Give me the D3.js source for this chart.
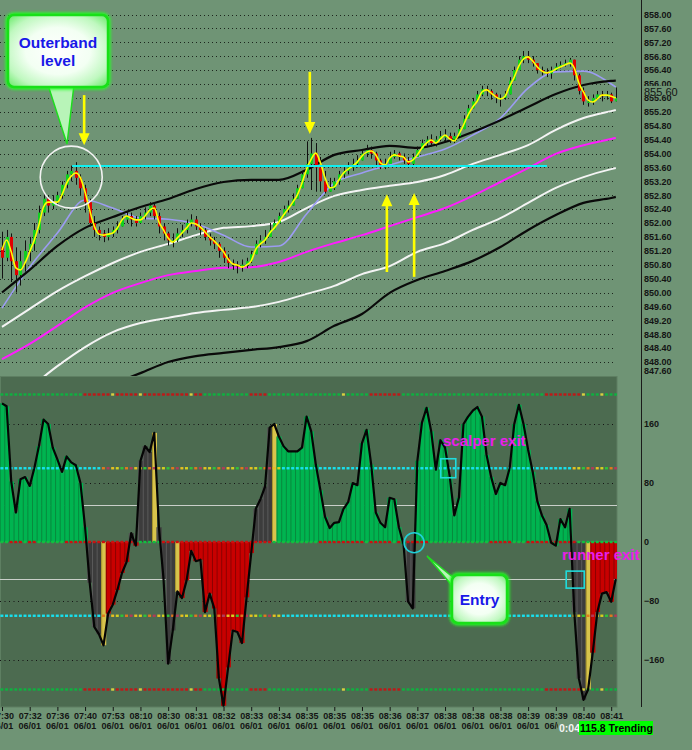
<!DOCTYPE html>
<html><head><meta charset="utf-8">
<script src="https://cdn.jsdelivr.net/npm/d3@7/dist/d3.min.js"></script>
<style>html,body{margin:0;padding:0;background:#6f9475;overflow:hidden}svg{display:block}</style>
</head><body>
<svg id="chart" width="692" height="750"></svg>
<script>
// ================= DATA =================
const timeLabels = ["07:30","07:32","07:36","07:40","07:53","08:10","08:30","08:31","08:32","08:33","08:34","08:35","08:35","08:35","08:36","08:37","08:38","08:38","08:38","08:39","08:39","08:40","08:41"];
const dateLabel = "06/01";
const priceTicks = [858.00,857.60,857.20,856.80,856.40,856.00,855.60,855.20,854.80,854.40,854.00,853.60,853.20,852.80,852.40,852.00,851.60,851.20,850.80,850.40,850.00,849.60,849.20,848.80,848.40,848.00,847.60];
const cciTicks = [160,80,0,-80,-160];
const cciOuter = [200,-200];
const cciMid = [100,-100];
const cciInner = [50,-50];
const lastPrice = 855.60;
const firstOpen = 851.3;

const close = [851.0,851.6,850.9,850.5,850.9,851.2,851.4,851.8,852.3,852.7,
852.5,852.6,852.8,853.1,853.4,853.5,853.3,853.0,852.6,852.0,
851.8,851.7,851.6,851.7,851.8,851.9,852.1,852.2,852.1,852.0,
852.2,852.3,852.5,852.2,851.9,851.7,851.5,851.5,851.7,851.8,
852.0,852.1,851.9,851.8,851.6,851.5,851.4,851.2,851.0,850.85,
850.8,850.75,850.8,850.9,851.1,851.4,851.5,851.6,851.8,852.0,
852.2,852.4,852.5,852.7,853.0,853.4,853.7,854.0,853.6,853.2,
852.9,853.0,853.2,853.4,853.5,853.6,853.7,853.8,854.0,854.1,
854.0,853.8,853.6,853.7,853.9,854.0,853.9,853.8,853.7,853.9,
854.1,854.3,854.4,854.3,854.4,854.5,854.5,854.4,854.5,854.7,
855.0,855.3,855.5,855.7,855.85,855.8,855.7,855.6,855.6,855.7,
856.1,856.4,856.7,856.8,856.7,856.6,856.4,856.35,856.3,856.4,
856.5,856.55,856.6,856.7,856.25,855.8,855.5,855.5,855.6,855.7,
855.65,855.7,855.5,855.6];

const high = [851.75,851.8,851.7,851.3,851.2,851.5,851.6,852.0,852.5,852.9,
852.8,852.8,852.9,853.2,853.5,853.65,853.75,853.4,853.1,852.7,
852.2,851.9,851.8,851.85,851.9,852.05,852.2,852.35,852.3,852.2,
852.3,852.45,852.6,852.6,852.3,852.0,851.75,851.7,851.85,851.95,
852.1,852.25,852.2,852.0,851.85,851.7,851.6,851.45,851.3,851.1,
850.95,850.9,850.95,851.0,851.2,851.5,851.65,851.8,852.0,852.1,
852.3,852.5,852.65,852.85,853.1,853.5,854.35,854.45,854.3,853.9,
853.5,853.3,853.3,853.5,853.6,853.75,853.85,853.95,854.1,854.25,
854.2,854.05,853.85,853.85,854.05,854.1,854.05,854.0,853.9,854.0,
854.2,854.4,854.5,854.55,854.5,854.65,854.7,854.6,854.6,854.85,
855.1,855.4,855.6,855.8,855.95,855.95,855.85,855.75,855.7,855.8,
856.2,856.5,856.8,856.95,856.95,856.8,856.6,856.5,856.45,856.5,
856.6,856.65,856.7,856.75,856.7,856.3,855.9,855.65,855.7,855.8,
855.8,855.8,855.75,855.9];

const low = [850.4,850.9,850.3,850.0,850.2,850.6,850.9,851.2,851.7,852.2,
852.3,852.4,852.5,852.7,853.0,853.2,853.1,852.8,852.3,851.9,
851.6,851.5,851.45,851.5,851.6,851.7,851.9,852.0,851.9,851.9,
852.0,852.1,852.2,852.1,851.7,851.5,851.35,851.3,851.45,851.6,
851.7,851.9,851.8,851.65,851.5,851.35,851.25,851.0,850.85,850.7,
850.65,850.55,850.6,850.7,850.85,851.1,851.3,851.4,851.6,851.8,
852.0,852.2,852.3,852.5,852.8,853.1,853.3,852.95,852.9,852.9,
852.85,852.9,852.95,853.1,853.3,853.4,853.5,853.6,853.8,853.9,
853.85,853.65,853.55,853.55,853.7,853.85,853.8,853.7,853.6,853.65,
853.9,854.1,854.2,854.2,854.2,854.35,854.35,854.3,854.3,854.5,
854.8,855.1,855.3,855.5,855.65,855.65,855.55,855.45,855.35,855.55,
855.9,856.2,856.5,856.6,856.6,856.5,856.3,856.25,856.2,856.15,
856.4,856.45,856.5,856.5,856.1,855.7,855.4,855.35,855.4,855.55,
855.5,855.55,855.45,855.5];

const fastMA = [851.22,851.51,851.17,850.71,850.65,850.85,851.17,851.51,851.94,852.46,
852.60,852.60,852.60,852.81,853.15,853.35,853.44,853.30,852.89,852.37,
851.91,851.68,851.65,851.68,851.71,851.86,852.09,852.20,852.14,852.09,
852.09,852.20,852.37,852.43,852.03,851.80,851.57,851.45,851.57,851.71,
851.86,852.00,851.97,851.88,851.74,851.60,851.48,851.34,851.17,850.96,
850.82,850.79,850.73,850.79,850.91,851.25,851.40,851.51,851.71,851.86,
852.03,852.23,852.40,852.60,852.81,853.15,853.55,853.84,854.01,853.73,
853.30,853.01,853.04,853.24,853.44,853.55,853.64,853.76,853.93,854.04,
854.07,853.96,853.73,853.67,853.87,853.96,853.93,853.90,853.76,853.81,
853.96,854.16,854.30,854.39,854.30,854.42,854.53,854.42,854.36,854.56,
854.82,855.11,855.34,855.51,855.77,855.83,855.74,855.63,855.57,855.65,
855.94,856.20,856.52,856.72,856.78,856.66,856.49,856.37,856.32,856.35,
856.43,856.49,856.55,856.60,856.46,856.03,855.77,855.54,855.48,855.57,
855.68,855.68,855.65,855.60];

const bandIdx = [0,6,12,18,24,30,36,42,48,54,60,66,72,78,84,90,96,102,108,114,120,126,132,133];
const upperOuter = [850.00,850.65,851.34,851.86,852.17,852.46,852.69,852.98,853.18,853.24,853.24,853.53,853.96,854.10,854.22,854.16,854.33,854.62,854.96,855.34,855.71,855.97,856.09,856.10];
const upperInner = [849.01,849.53,850.04,850.47,850.85,851.17,851.40,851.65,851.86,851.91,852.03,852.43,852.78,852.95,853.07,853.18,853.38,853.70,853.96,854.24,854.68,855.02,855.22,855.25];
const midBand    = [848.08,848.52,849.04,849.57,849.99,850.27,850.50,850.62,850.71,850.73,850.88,851.17,851.42,851.65,851.91,852.17,852.43,852.78,853.18,853.58,853.99,854.24,854.42,854.45];
const lowerInner = [846.62,847.25,847.88,848.43,848.86,849.12,849.27,849.41,849.50,849.58,849.73,849.96,850.19,850.53,850.76,851.17,851.42,851.80,852.14,852.58,853.01,853.32,853.55,853.58];
const lowerOuter = [846.10,846.42,846.73,847.05,847.37,847.68,848.00,848.17,848.26,848.35,848.43,848.60,849.04,849.38,849.99,850.36,850.62,850.91,851.31,851.80,852.23,852.58,852.72,852.75];
const slowMA     = [849.55,850.73,851.71,852.66,852.43,852.14,852.11,851.97,851.65,851.31,851.34,852.26,853.15,853.44,853.67,853.90,854.13,854.53,855.02,855.88,856.35,856.37,856.00,855.91];

const cci = [188,184,82,40,85,88,76,100,130,166,
160,128,112,95,116,108,104,80,20,-55,
-115,-125,-140,-97,-85,-65,-42,-27,12,-5,
110,130,122,148,20,-50,-165,-120,-67,-76,
-52,-12,-26,-24,-95,-70,-90,-185,-222,-170,
-120,-122,-137,-75,-15,45,58,75,155,160,
143,130,123,123,123,128,170,150,105,70,
34,19,26,27,45,54,80,77,134,152,
105,40,26,20,60,58,20,-3,-81,-90,
110,162,182,150,98,138,128,90,36,60,
160,170,178,183,170,118,88,65,80,77,
100,160,186,160,125,95,55,36,23,-1,
-5,31,20,45,-95,-185,-214,-200,-150,-95,
-70,-68,-81,-50];
// bar state runs: g=green, r=red, k=grey, y=yellow
const cciStateRuns = [["g",19],["k",3],["y",1],["r",5],["k",1],["r",1],["k",3],["y",1],["k",4],["y",1],["r",16],["k",4],["y",1],["g",28],["k",2],["g",34],["k",3],["y",1],["r",6]];
const outerRedRanges = [[18,43],[54,57],[80,86],[118,125]];
const outerYellowBars = [24,30,41,74,126,130];
const zeroRedRanges = [[2,4],[6,7],[14,15],[16,28],[35,58],[69,78],[80,84],[86,92],[106,110],[114,124]];
const midMultiRanges = [[22,60],[124,133]];

// annotations (in data coordinates)
const levelLine = {from: 15.2, to: 118.1, price: 853.64};
const downArrows = [{i: 17.8, p1: 855.68, p2: 854.24}, {i: 66.7, p1: 856.35, p2: 854.56}];
const upArrows = [{i: 83.4, p1: 850.59, p2: 852.83}, {i: 89.3, p1: 850.45, p2: 852.86}];
const outerCircle = {i: 15, p: 853.32};
const scalperBox = {i: 96.7, v: 100};
const runnerBox = {i: 124.2, v: -51};
const entryMark = {i: 89.3, v: -1};

// ================= DRAW =================
const F = "'Liberation Sans', Arial, Helvetica, sans-serif";
const BG = "#6f9475", PBG = "#4c6b50";
const svg = d3.select("#chart");
svg.append("rect").attr("width",692).attr("height",750).attr("fill",BG);
const defs = svg.append("defs");
defs.append("clipPath").attr("id","cTop").append("rect").attr("x",0).attr("y",0).attr("width",617).attr("height",376);
defs.append("clipPath").attr("id","cBot").append("rect").attr("x",0).attr("y",377).attr("width",617).attr("height",330);
defs.append("clipPath").attr("id","cDate").append("rect").attr("x",-10).attr("y",0).attr("width",568).attr("height",30);
const cPx = defs.append("clipPath").attr("id","cPx");
cPx.append("rect").attr("x",0).attr("y",0).attr("width",60).attr("height",86);
cPx.append("rect").attr("x",0).attr("y",95.5).attr("width",60).attr("height",300);
const rg = defs.append("radialGradient").attr("id","cfill").attr("cx","50%").attr("cy","50%").attr("r","65%");
[["0%","#ffffff"],["50%","#f3fff3"],["82%","#bff8bf"],["100%","#80ee80"]].forEach(([o,c])=>rg.append("stop").attr("offset",o).attr("stop-color",c));
const blur = defs.append("filter").attr("id","blur").attr("x","-30%").attr("y","-30%").attr("width","160%").attr("height","160%");
blur.append("feGaussianBlur").attr("stdDeviation",1.8);

const x = d3.scaleLinear().domain([0, close.length-1]).range([2, 615.8]);
const step = x(1) - x(0);
const yP = d3.scaleLinear().domain([847.6, 858]).range([375.9, 14.5]);
const yC = d3.scaleLinear().domain([-200, 200]).range([689.5, 394.5]);

// ---------- top panel ----------
const topG = svg.append("g").attr("clip-path","url(#cTop)");
topG.selectAll("line.grid").data(priceTicks).join("line").attr("class","grid")
  .attr("x1",0).attr("x2",615)
  .attr("y1",d=>Math.round(yP(d))+0.5).attr("y2",d=>Math.round(yP(d))+0.5)
  .attr("stroke","#1c261d").attr("stroke-width",1).attr("stroke-dasharray","1,3");

const bandLine = d3.line().x((d,k)=>x(bandIdx[k])).y(d=>yP(d)).curve(d3.curveMonotoneX);
[[lowerOuter,"#0a0a0a",2.2],[lowerInner,"#f4f4f4",2],[midBand,"#ff1cff",2],[upperInner,"#f4f4f4",2],[slowMA,"#9c9cf2",1.6],[upperOuter,"#0a0a0a",2.2]]
  .forEach(([arr,col,w])=>topG.append("path").datum(arr).attr("d",bandLine).attr("fill","none").attr("stroke",col).attr("stroke-width",w));

// candles
const candles = close.map((c,i)=>({i, o: i===0 ? firstOpen : close[i-1], c, h: high[i], l: low[i]}));
const cg = topG.append("g");
cg.selectAll("line").data(candles).join("line")
  .attr("x1",d=>Math.round(x(d.i))+0.5).attr("x2",d=>Math.round(x(d.i))+0.5)
  .attr("y1",d=>yP(Math.max(d.h,d.o,d.c))).attr("y2",d=>yP(Math.min(d.l,d.o,d.c)))
  .attr("stroke","#111").attr("stroke-width",1);
cg.selectAll("rect").data(candles).join("rect")
  .attr("x",d=>Math.round(x(d.i))-1).attr("width",3)
  .attr("y",d=>yP(Math.max(d.o,d.c)))
  .attr("height",d=>Math.max(1.5, Math.abs(yP(d.o)-yP(d.c))))
  .attr("fill",d=>d.c>=d.o ? "#10d020" : "#e00000");

// fast MA (yellow)
topG.append("path").datum(fastMA)
  .attr("d", d3.line().x((d,i)=>x(i)).y(d=>yP(d)).curve(d3.curveMonotoneX))
  .attr("fill","none").attr("stroke","#ffff00").attr("stroke-width",1.6);

// cyan level line
topG.append("line").attr("x1",x(levelLine.from)).attr("x2",x(levelLine.to))
  .attr("y1",yP(levelLine.price)).attr("y2",yP(levelLine.price))
  .attr("stroke","#10f0f0").attr("stroke-width",2);

// arrows
function arrow(a){
  const X = x(a.i), Y1 = yP(a.p1), Y2 = yP(a.p2), dir = Math.sign(Y2-Y1);
  topG.append("line").attr("x1",X).attr("x2",X).attr("y1",Y1).attr("y2",Y2-dir*10)
    .attr("stroke","#ffff00").attr("stroke-width",2.6);
  topG.append("path").attr("d",`M${X-5.5},${Y2-dir*12}L${X+5.5},${Y2-dir*12}L${X},${Y2}Z`).attr("fill","#ffff00");
}
downArrows.forEach(arrow); upArrows.forEach(arrow);

topG.append("circle").attr("cx",x(outerCircle.i)).attr("cy",yP(outerCircle.p)).attr("r",31)
  .attr("fill","none").attr("stroke","#f2f2f2").attr("stroke-width",1.6);

// callouts
function callout(g, bx, by, bw, bh, tail, lines, fs){
  g.append("path").attr("d",tail).attr("fill","#b8f4b8").attr("stroke","#1fdc1f").attr("stroke-width",1.5);
  g.append("rect").attr("x",bx).attr("y",by).attr("width",bw).attr("height",bh).attr("rx",6)
    .attr("fill","none").attr("stroke","#22ff22").attr("stroke-width",5).attr("filter","url(#blur)");
  g.append("rect").attr("x",bx).attr("y",by).attr("width",bw).attr("height",bh).attr("rx",6)
    .attr("fill","url(#cfill)").attr("stroke","#18e018").attr("stroke-width",2.5);
  lines.forEach(([t,ty])=>g.append("text").attr("x",bx+bw/2).attr("y",ty).attr("text-anchor","middle")
    .attr("font-family",F).attr("font-weight","bold").attr("font-size",fs).attr("fill","#1818e8").text(t));
}
const ann = svg.append("g");
callout(ann, 8, 15, 100, 72, "M48,85L74,85L67,144Z", [["Outerband",48],["level",66]], 15.5);

// ---------- right axis ----------
svg.append("line").attr("x1",641.5).attr("x2",641.5).attr("y1",0).attr("y2",707).attr("stroke","#1a1a1a");
const axPwrap = svg.append("g").attr("transform","translate(641,0)");
const axP = axPwrap.append("g").attr("clip-path","url(#cPx)")
  .call(d3.axisRight(yP).tickValues(priceTicks).tickSize(0).tickPadding(3).tickFormat(d=>d.toFixed(2)));
axP.select(".domain").remove();
axP.attr("font-family",F).attr("font-size",9).attr("font-weight","bold");
axP.selectAll("text").attr("fill","#141414");
axP.selectAll(".tick").filter(d=>d===847.6).select("text").attr("y",-5);
svg.append("text").attr("x",644).attr("y",96).attr("font-family",F).attr("font-size",11).attr("fill","#141414").text(lastPrice.toFixed(2));

// ---------- bottom panel ----------
svg.append("rect").attr("x",0.5).attr("y",376.5).attr("width",616.5).attr("height",330.5).attr("fill",PBG).attr("stroke","#5e7f62");
const bot = svg.append("g").attr("clip-path","url(#cBot)");
bot.selectAll("line.g").data(cciTicks.filter(v=>v!==0)).join("line").attr("class","g")
  .attr("x1",0).attr("x2",615).attr("y1",d=>Math.round(yC(d))+0.5).attr("y2",d=>Math.round(yC(d))+0.5)
  .attr("stroke","#141414").attr("stroke-dasharray","1,3.5");
bot.selectAll("line.w").data(cciInner).join("line").attr("class","w")
  .attr("x1",0).attr("x2",617).attr("y1",d=>Math.round(yC(d))+0.5).attr("y2",d=>Math.round(yC(d))+0.5)
  .attr("stroke","#c9cfc9").attr("stroke-width",1);

const states = cciStateRuns.flatMap(([s,n])=>Array(n).fill(s));
const fillC = {g:"#00b450", r:"#c80000", k:"#3c3c3c", y:"#d8c44c"};
const stripeC = {g:"#078a3e", r:"#8e0000", k:"#5a5a5a", y:"#a8962e"};
const bars = cci.map((v,i)=>({i, v, s: states[i]}));
bot.selectAll("rect.bar").data(bars).join("rect").attr("class","bar")
  .attr("x",d=>x(d.i)-step/2).attr("width",step+0.4)
  .attr("y",d=>Math.min(yC(0),yC(d.v))).attr("height",d=>Math.abs(yC(d.v)-yC(0)))
  .attr("fill",d=>fillC[d.s]);
bot.selectAll("rect.stripe").data(bars).join("rect").attr("class","stripe")
  .attr("x",d=>x(d.i)-step/2).attr("width",1)
  .attr("y",d=>Math.min(yC(0),yC(d.v))).attr("height",d=>Math.abs(yC(d.v)-yC(0)))
  .attr("fill",d=>stripeC[d.s]);

const inR = (i, ranges) => ranges.some(([a,b])=>i>=a && i<=b);
const idx = d3.range(close.length);
const multi = ["#d6d020","#2fc43a","#e07a1c","#b03a5a","#e8c020"];
function dashRow(level, colorFn){
  bot.selectAll(null).data(idx).join("rect")
    .attr("x",i=>x(i)-1.6).attr("width",3).attr("y",yC(level)-1.2).attr("height",2.4)
    .attr("fill",colorFn);
}
cciOuter.forEach(lv=>dashRow(lv, i=>outerYellowBars.includes(i) ? "#d8d040" : inR(i,outerRedRanges) ? "#c01818" : "#10b040"));
cciMid.forEach(lv=>dashRow(lv, i=>inR(i,midMultiRanges) ? multi[i%multi.length] : "#18e0ee"));
dashRow(0, i=>inR(i,zeroRedRanges) ? "#cc1010" : "#10c040");

bot.append("path").datum(cci)
  .attr("d", d3.line().x((d,i)=>x(i)).y(d=>yC(d)))
  .attr("fill","none").attr("stroke","#050505").attr("stroke-width",2.2).attr("stroke-linejoin","round");

// CCI axis
const axC = svg.append("g").attr("transform","translate(641,0)")
  .call(d3.axisRight(yC).tickValues(cciTicks).tickSize(0).tickPadding(3));
axC.select(".domain").remove();
axC.attr("font-family",F).attr("font-size",9).attr("font-weight","bold");
axC.selectAll("text").attr("fill","#141414");

// time axis
const labelIdx = timeLabels.map((_,k)=>k*6);
const axT = svg.append("g").attr("transform","translate(0,707)")
  .call(d3.axisBottom(x).tickValues(labelIdx).tickSize(4).tickPadding(2).tickFormat((d,k)=>timeLabels[k]));
axT.select(".domain").remove();
axT.attr("font-family",F).attr("font-size",9).attr("font-weight","bold");
axT.selectAll("line").attr("stroke","#141414");
axT.selectAll("text").attr("fill","#141414");
// date row (the status readout covers the right end, as in the source)
const dateG = svg.append("g").attr("transform","translate(0,707)").attr("clip-path","url(#cDate)")
  .attr("font-family",F).attr("font-size",9).attr("font-weight","bold").attr("fill","#141414").attr("text-anchor","middle");
dateG.selectAll("text").data(labelIdx).join("text").attr("x",d=>x(d)).attr("y",16).attr("dy","0.71em").text(dateLabel);

// status
svg.append("text").attr("x",559).attr("y",732).attr("font-family",F).attr("font-weight","bold").attr("font-size",10.5).attr("fill","#f4f4f4").text("0:04");
svg.append("rect").attr("x",579).attr("y",721).attr("width",74).attr("height",14).attr("fill","#00ff00");
svg.append("text").attr("x",580).attr("y",732).attr("font-family",F).attr("font-weight","bold").attr("font-size",10.5).attr("fill","#000").text("115.8 Trending");

// bottom annotations
const ann2 = svg.append("g");
ann2.append("rect").attr("x",x(scalperBox.i)-7.5).attr("y",yC(scalperBox.v)-9.5).attr("width",15).attr("height",19)
  .attr("fill","none").attr("stroke","#20dcdc").attr("stroke-width",1.6);
ann2.append("rect").attr("x",x(runnerBox.i)-9).attr("y",yC(runnerBox.v)-8.5).attr("width",18).attr("height",17)
  .attr("fill","none").attr("stroke","#20dcdc").attr("stroke-width",1.6);
ann2.append("circle").attr("cx",x(entryMark.i)).attr("cy",yC(entryMark.v)).attr("r",10)
  .attr("fill","none").attr("stroke","#20d0d8").attr("stroke-width",1.6);
ann2.append("text").attr("x",443).attr("y",446).attr("font-family",F).attr("font-weight","bold").attr("font-size",15).attr("fill","#ea1eea").text("scalper exit");
ann2.append("text").attr("x",562).attr("y",560).attr("font-family",F).attr("font-weight","bold").attr("font-size",15).attr("fill","#ea1eea").text("runner exit");
callout(ann2, 452, 575, 55, 48, "M427,556L455,579L455,589Z", [["Entry",605]], 15.5);
</script>
</body></html>
